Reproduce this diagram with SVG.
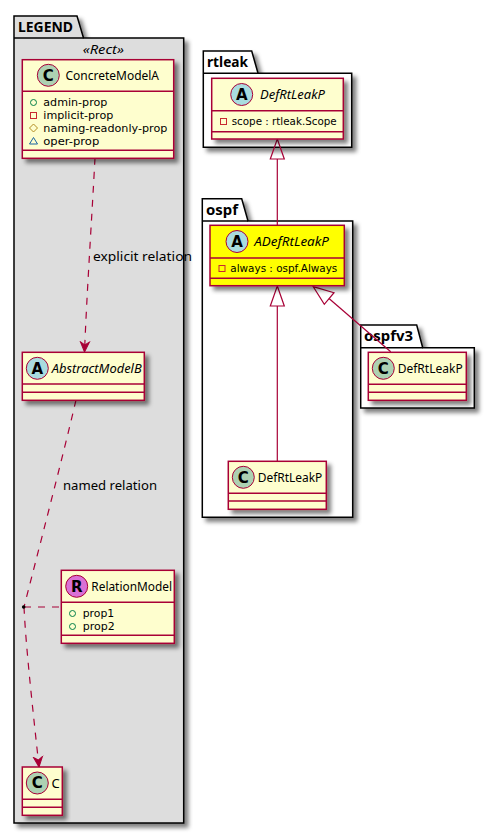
<svg xmlns="http://www.w3.org/2000/svg" width="495" height="834" viewBox="0 0 495 834">
<defs>
<filter id="sh" x="-20%" y="-20%" width="140%" height="140%"><feGaussianBlur in="SourceAlpha" stdDeviation="2"/><feOffset dx="4" dy="4"/><feColorMatrix type="matrix" values="0 0 0 0 0 0 0 0 0 0 0 0 0 0 0 0 0 0 0.5 0"/><feMerge><feMergeNode/><feMergeNode in="SourceGraphic"/></feMerge></filter>
<marker id="spear" viewBox="0 0 12 12" refX="11" refY="6" markerWidth="12" markerHeight="12" markerUnits="userSpaceOnUse" orient="auto"><path d="M11 6L1 1.500L4 6L1 10.500Z" fill="#A80036" stroke="#A80036"/></marker>
</defs>
<style>
text{font-family:"Noto Sans","DejaVu Sans",sans-serif;fill:#000}
.pk{stroke:#000;stroke-width:1.5}
.pt{font-size:14px;font-weight:bold}
.cl{fill:#FEFECE;stroke:#A80036;stroke-width:1.5}
.ln{stroke:#A80036;stroke-width:1.5;fill:none}
.ci{stroke:#A80036;stroke-width:1}
.cC{fill:#ADD1B2}.cA{fill:#A9DCDF}.cR{fill:#DA70D6}
.le{font-size:15px;font-weight:bold;text-anchor:middle;font-family:"DejaVu Sans",sans-serif}
.nm{font-size:13px}
.it{font-style:italic}
.mb{font-size:11px;font-family:"DejaVu Sans",sans-serif}
.lb{font-size:13px}
.co{stroke:#A80036;stroke-width:1.2;fill:none}
.da{stroke-dasharray:7 7}
.tr{fill:none;stroke:#A80036;stroke-width:1.2}
</style>

<g id="pkg-legend">
<path class="pk" fill="#DDDDDD" filter="url(#sh)" d="M14 38V16H77L83.500 38H183.700V823H14Z"/>
<line class="pk" x1="14" y1="38" x2="83.500" y2="38"/>
<text class="pt" x="18" y="32" textLength="55" lengthAdjust="spacingAndGlyphs">LEGEND</text>
<text class="it" font-size="13" x="82.700" y="53.500" textLength="41.300" lengthAdjust="spacingAndGlyphs">«Rect»</text>
</g>
<g id="pkg-rtleak">
<path class="pk" fill="#FFFFFF" filter="url(#sh)" d="M203.300 73.300V51H251.700L258 73.300H351.700V147.300H203.300Z"/>
<line class="pk" x1="203.300" y1="73.300" x2="258" y2="73.300"/>
<text class="pt" x="207" y="67" textLength="41" lengthAdjust="spacingAndGlyphs">rtleak</text>
</g>
<g id="pkg-ospf">
<path class="pk" fill="#FFFFFF" filter="url(#sh)" d="M202.300 221V198.700H241.700L248 221H352.700V517.300H202.300Z"/>
<line class="pk" x1="202.300" y1="221" x2="248" y2="221"/>
<text class="pt" x="206" y="214.500" textLength="32" lengthAdjust="spacingAndGlyphs">ospf</text>
</g>
<g id="pkg-ospfv3">
<path class="pk" fill="#FFFFFF" filter="url(#sh)" d="M360.700 347.700V325H416.700L422.700 347.700H474.300V408H360.700Z"/>
<line class="pk" x1="360.700" y1="347.700" x2="422.700" y2="347.700"/>
<text class="pt" x="364" y="341" textLength="49" lengthAdjust="spacingAndGlyphs">ospfv3</text>
</g>

<g id="connectors">
<path class="co da" d="M95 158C92 215 87 290 84.500 352" marker-end="url(#spear)"/>
<path class="co da" d="M76 400C62 460 36 560 24 607"/>
<path class="co da" d="M24 607C26 650 34 720 39 767" marker-end="url(#spear)"/>
<path class="co da" d="M24 607H61"/>
<circle cx="23.700" cy="607" r="1.800" fill="#000"/>
<path class="tr" d="M277.300 139L284.300 159H270.300Z"/>
<line class="co" x1="277.300" y1="159" x2="277.300" y2="225.300"/>
<path class="tr" d="M277.300 286L284.300 306H270.300Z"/>
<line class="co" x1="277.300" y1="306" x2="277.300" y2="461"/>
<path class="tr" d="M313.300 286.700L334 292.700L324.300 304.300Z"/>
<line class="co" x1="329" y1="298.500" x2="390.700" y2="351.700"/>
<text class="lb" x="93" y="261" textLength="99" lengthAdjust="spacingAndGlyphs">explicit relation</text>
<text class="lb" x="63" y="490" textLength="94" lengthAdjust="spacingAndGlyphs">named relation</text>
</g>

<g id="node-concretemodela">
<rect class="cl" filter="url(#sh)" x="22.300" y="59.700" width="151.400" height="98.600"/>
<line class="ln" x1="22.300" y1="91.300" x2="173.700" y2="91.300"/>
<line class="ln" x1="22.300" y1="150.300" x2="173.700" y2="150.300"/>
<circle class="ci cC" cx="48.300" cy="75.300" r="11"/>
<text class="le" x="48.300" y="80.500">C</text>
<text class="nm" x="65.500" y="80" textLength="93.500" lengthAdjust="spacingAndGlyphs">ConcreteModelA</text>
<circle cx="33.500" cy="102.500" r="3" fill="none" stroke="#038048"/>
<rect x="30.500" y="112.500" width="6" height="6" fill="none" stroke="#C82930"/>
<path d="M33.500 124L37.500 128L33.500 132L29.500 128Z" fill="none" stroke="#B38D22"/>
<path d="M33.500 137.500L37.500 144H29.500Z" fill="none" stroke="#1963A0"/>
<text class="mb" x="43.300" y="106" textLength="64" lengthAdjust="spacingAndGlyphs">admin-prop</text>
<text class="mb" x="43.300" y="119" textLength="70" lengthAdjust="spacingAndGlyphs">implicit-prop</text>
<text class="mb" x="43.300" y="132" textLength="124" lengthAdjust="spacingAndGlyphs">naming-readonly-prop</text>
<text class="mb" x="43.300" y="145" textLength="56" lengthAdjust="spacingAndGlyphs">oper-prop</text>
</g>
<g id="node-abstractmodelb">
<rect class="cl" filter="url(#sh)" x="22.300" y="352.300" width="122" height="48"/>
<line class="ln" x1="22.300" y1="384" x2="144.300" y2="384"/>
<line class="ln" x1="22.300" y1="392.300" x2="144.300" y2="392.300"/>
<circle class="ci cA" cx="37.300" cy="368.300" r="11"/>
<text class="le" x="37.300" y="373.500">A</text>
<text class="nm it" x="51.700" y="373" textLength="90" lengthAdjust="spacingAndGlyphs">AbstractModelB</text>
</g>
<g id="node-relationmodel">
<rect class="cl" filter="url(#sh)" x="61.300" y="570.300" width="113" height="73"/>
<line class="ln" x1="61.300" y1="602.300" x2="174.300" y2="602.300"/>
<line class="ln" x1="61.300" y1="635.300" x2="174.300" y2="635.300"/>
<circle class="ci cR" cx="76.700" cy="586.300" r="11"/>
<text class="le" x="76.700" y="591.500">R</text>
<text class="nm" x="91.300" y="591" textLength="80.700" lengthAdjust="spacingAndGlyphs">RelationModel</text>
<circle cx="72.500" cy="613.500" r="3" fill="none" stroke="#038048"/>
<circle cx="72.500" cy="626.500" r="3" fill="none" stroke="#038048"/>
<text class="mb" x="82.700" y="617" textLength="31.500" lengthAdjust="spacingAndGlyphs">prop1</text>
<text class="mb" x="82.700" y="630" textLength="32" lengthAdjust="spacingAndGlyphs">prop2</text>
</g>
<g id="node-c">
<rect class="cl" filter="url(#sh)" x="22.300" y="767" width="40" height="48.300"/>
<line class="ln" x1="22.300" y1="799.300" x2="62.300" y2="799.300"/>
<line class="ln" x1="22.300" y1="807.300" x2="62.300" y2="807.300"/>
<circle class="ci cC" cx="37.300" cy="783" r="11"/>
<text class="le" x="37.300" y="788.200">C</text>
<text class="nm" x="51.500" y="788">C</text>
</g>
<g id="node-rtleak-defrtleakp">
<rect class="cl" filter="url(#sh)" x="211.700" y="78.300" width="131.600" height="60.700"/>
<line class="ln" x1="211.700" y1="110.700" x2="343.300" y2="110.700"/>
<line class="ln" x1="211.700" y1="131.700" x2="343.300" y2="131.700"/>
<circle class="ci cA" cx="241.700" cy="94.500" r="11"/>
<text class="le" x="241.700" y="99.700">A</text>
<text class="nm it" x="260" y="99" textLength="65" lengthAdjust="spacingAndGlyphs">DefRtLeakP</text>
<rect x="220.500" y="118.500" width="6" height="6" fill="none" stroke="#C82930"/>
<text class="mb" x="231.700" y="125" textLength="105" lengthAdjust="spacingAndGlyphs">scope : rtleak.Scope</text>
</g>
<g id="node-ospf-adefrtleakp">
<rect class="cl" style="fill:#FFFF00" filter="url(#sh)" x="210" y="225.300" width="134.300" height="60.400"/>
<line class="ln" x1="210" y1="258" x2="344.300" y2="258"/>
<line class="ln" x1="210" y1="278.300" x2="344.300" y2="278.300"/>
<circle class="ci cA" cx="237" cy="241.500" r="11"/>
<text class="le" x="237" y="246.700">A</text>
<text class="nm it" x="254.300" y="246" textLength="74.700" lengthAdjust="spacingAndGlyphs">ADefRtLeakP</text>
<rect x="219" y="265.500" width="6" height="6" fill="none" stroke="#C82930"/>
<text class="mb" x="230.300" y="272" textLength="107" lengthAdjust="spacingAndGlyphs">always : ospf.Always</text>
</g>
<g id="node-ospf-defrtleakp">
<rect class="cl" filter="url(#sh)" x="228.300" y="461.300" width="98" height="48"/>
<line class="ln" x1="228.300" y1="493.300" x2="326.300" y2="493.300"/>
<line class="ln" x1="228.300" y1="501" x2="326.300" y2="501"/>
<circle class="ci cC" cx="243.300" cy="477.300" r="11"/>
<text class="le" x="243.300" y="482.500">C</text>
<text class="nm" x="257.700" y="482" textLength="64.600" lengthAdjust="spacingAndGlyphs">DefRtLeakP</text>
</g>
<g id="node-ospfv3-defrtleakp">
<rect class="cl" filter="url(#sh)" x="368.300" y="352.300" width="98" height="48"/>
<line class="ln" x1="368.300" y1="384.300" x2="466.300" y2="384.300"/>
<line class="ln" x1="368.300" y1="392.300" x2="466.300" y2="392.300"/>
<circle class="ci cC" cx="383.300" cy="368.300" r="11"/>
<text class="le" x="383.300" y="373.500">C</text>
<text class="nm" x="397.700" y="373" textLength="65" lengthAdjust="spacingAndGlyphs">DefRtLeakP</text>
</g>
</svg>
